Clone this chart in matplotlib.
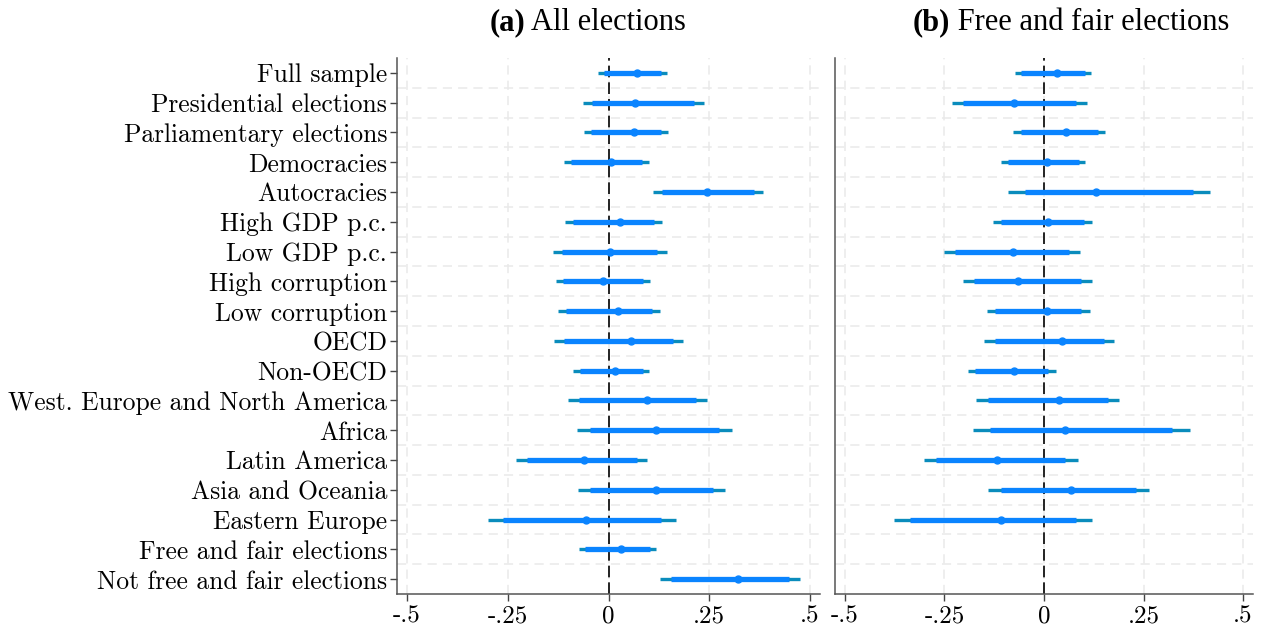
import matplotlib
matplotlib.use("Agg")
import matplotlib.pyplot as plt
import numpy as np

# 표본(그룹) 이름
labels = ["Full sample", "Presidential elections", "Parliamentary elections",
          "Democracies", "Autocracies", "High GDP p.c.", "Low GDP p.c.",
          "High corruption", "Low corruption", "OECD", "Non-OECD",
          "West. Europe and North America", "Africa", "Latin America",
          "Asia and Oceania", "Eastern Europe", "Free and fair elections",
          "Not free and fair elections"]

# (a) All elections: 점추정, 안쪽 구간, 바깥 구간
a_coef = [0.071, 0.066, 0.064, 0.006, 0.245, 0.029, 0.003, -0.014, 0.024,
          0.055, 0.017, 0.095, 0.117, -0.060, 0.118, -0.055, 0.032, 0.321]
a_lo_in = [-0.012, -0.041, -0.043, -0.093, 0.132, -0.088, -0.116, -0.112, -0.106,
           -0.110, -0.072, -0.073, -0.047, -0.202, -0.045, -0.261, -0.058, 0.155]
a_hi_in = [0.130, 0.211, 0.131, 0.084, 0.361, 0.114, 0.121, 0.085, 0.108,
           0.160, 0.086, 0.217, 0.275, 0.070, 0.259, 0.130, 0.102, 0.447]
a_lo_out = [-0.026, -0.064, -0.060, -0.110, 0.110, -0.107, -0.139, -0.130, -0.126,
            -0.135, -0.087, -0.100, -0.078, -0.229, -0.075, -0.299, -0.073, 0.128]
a_hi_out = [0.145, 0.236, 0.147, 0.101, 0.383, 0.133, 0.145, 0.104, 0.127,
            0.184, 0.101, 0.245, 0.307, 0.096, 0.288, 0.167, 0.117, 0.474]

# (b) Free and fair elections (마지막 두 행은 없음)
b_coef = [0.033, -0.076, 0.055, 0.008, 0.130, 0.011, -0.079, -0.066, 0.008,
          0.044, -0.075, 0.038, 0.054, -0.119, 0.069, -0.107, np.nan, np.nan]
b_lo_in = [-0.058, -0.203, -0.058, -0.090, -0.048, -0.108, -0.223, -0.177, -0.123,
           -0.123, -0.173, -0.141, -0.136, -0.271, -0.108, -0.336, np.nan, np.nan]
b_hi_in = [0.103, 0.080, 0.135, 0.087, 0.375, 0.100, 0.063, 0.093, 0.094,
           0.151, 0.011, 0.160, 0.322, 0.054, 0.230, 0.080, np.nan, np.nan]
b_lo_out = [-0.073, -0.230, -0.077, -0.108, -0.090, -0.128, -0.251, -0.204, -0.143,
            -0.150, -0.190, -0.171, -0.179, -0.301, -0.141, -0.377, np.nan, np.nan]
b_hi_out = [0.117, 0.109, 0.154, 0.103, 0.416, 0.120, 0.090, 0.120, 0.115,
            0.176, 0.029, 0.188, 0.367, 0.085, 0.263, 0.120, np.nan, np.nan]

xticks = [-0.5, -0.25, 0, 0.25, 0.5]
xticklabels = ["-.5", "-.25", "0", ".25", ".5"]

inner_col = "#0a84ff"
outer_col = "#0a8cbc"
tick_font = "cmr10"
title_font = "Liberation Serif"

fig = plt.figure(figsize=(12.63, 6.28), dpi=100)
ax1 = fig.add_axes([0.3143, 0.0541, 0.335, 0.8535])
ax2 = fig.add_axes([0.6611, 0.0541, 0.331, 0.8535])

y = np.arange(1, len(labels) + 1)


def draw_panel(ax, coef, lo_in, hi_in, lo_out, hi_out, show_y):
    # 격자선
    for xv in xticks:
        ax.axvline(xv, color="#e9e9e9", lw=1.1, ls=(0, (6, 4)), zorder=0)
    for yv in np.arange(1.5, len(labels), 1.0):
        ax.axhline(yv, color="#e9e9e9", lw=1.1, ls=(0, (6, 4)), zorder=0)
    ax.axvline(0, color="black", lw=1.2, ls=(0, (7, 3)), zorder=1)

    ax.hlines(y, lo_out, hi_out, color=outer_col, lw=2.4, zorder=2)
    ax.hlines(y, lo_in, hi_in, color=inner_col, lw=3.8, zorder=3)
    ax.plot(coef, y, "o", color=inner_col, ms=5, zorder=4)

    ax.set_xlim(-0.525, 0.525)
    ax.set_ylim(len(labels) + 0.5, 0.5)
    ax.set_xticks(xticks)
    ax.set_xticklabels(xticklabels, fontfamily=tick_font, fontsize=18)
    ax.set_yticks(y)
    if show_y:
        ax.set_yticklabels(labels, fontfamily=tick_font, fontsize=18.4)
        ax.tick_params(axis="y", length=5, width=1, color="#444444", pad=2)
    else:
        ax.set_yticklabels([])
        ax.tick_params(axis="y", length=0)
    ax.tick_params(axis="x", length=5, width=1, color="#444444", pad=3)
    for s in ["top", "right"]:
        ax.spines[s].set_visible(False)
    for s in ["left", "bottom"]:
        ax.spines[s].set_color("#555555")
        ax.spines[s].set_linewidth(1.1)


def panel_title(xc, bold, rest):
    # 굵은 (a) + 일반 제목을 같은 기준선에 이어서 배치
    t1 = fig.text(0, 0.952, bold, fontfamily=title_font, fontweight="bold",
                  fontsize=22, ha="left", va="baseline")
    t2 = fig.text(0, 0.952, " " + rest, fontfamily=title_font,
                  fontsize=22, ha="left", va="baseline")
    fig.canvas.draw()
    r = fig.canvas.get_renderer()
    w1 = t1.get_window_extent(r).width / fig.bbox.width
    w2 = t2.get_window_extent(r).width / fig.bbox.width
    x0 = xc - (w1 + w2) / 2
    t1.set_x(x0)
    t2.set_x(x0 + w1)


draw_panel(ax1, a_coef, a_lo_in, a_hi_in, a_lo_out, a_hi_out, True)
draw_panel(ax2, b_coef, b_lo_in, b_hi_in, b_lo_out, b_hi_out, False)

panel_title(588 / 1263, "(a)", "All elections")
panel_title(1071 / 1263, "(b)", "Free and fair elections")

fig.savefig("out.png", dpi=100)
